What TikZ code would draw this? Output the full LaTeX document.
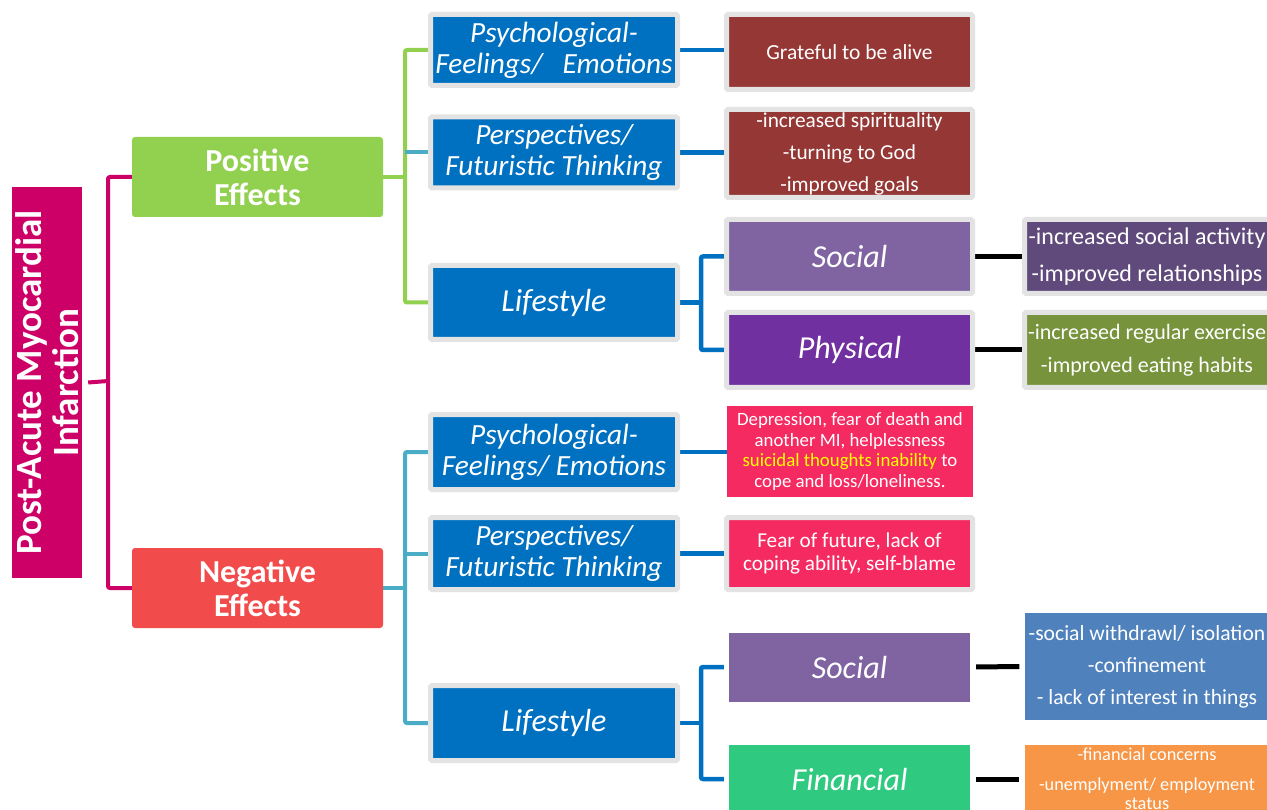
\documentclass[tikz,border=0pt]{standalone}
\usepackage{fontspec}
\setmainfont{Carlito}
\pgfdeclarelayer{background}
\pgfsetlayers{background,main}

\definecolor{rootc}{HTML}{CC0066}
\definecolor{posc}{HTML}{92D050}
\definecolor{negc}{HTML}{F24B4B}
\definecolor{catblue}{HTML}{0070C0}
\definecolor{framec}{HTML}{E3E3E3}
\definecolor{wine}{HTML}{953735}
\definecolor{pinkc}{HTML}{F42A61}
\definecolor{socialc}{HTML}{8064A2}
\definecolor{physc}{HTML}{7030A0}
\definecolor{finc}{HTML}{2FC97F}
\definecolor{plum}{HTML}{604A7B}
\definecolor{olive}{HTML}{77933C}
\definecolor{steel}{HTML}{4F81BD}
\definecolor{orangec}{HTML}{F79646}
\definecolor{tealc}{HTML}{4BACC6}
\definecolor{yel}{HTML}{FFFF00}

\begin{document}
\begin{tikzpicture}[x=1pt,y=-1pt,
  framed/.style={draw=framec, line width=5pt, rounded corners=1.5pt, text=white,
    align=center, inner sep=0pt},
  plain/.style={text=white, align=center, inner sep=0pt},
  effect/.style={plain, rounded corners=3pt, minimum width=251pt, minimum height=80pt,
    font=\fontsize{32}{34}\selectfont\bfseries},
  cat/.style={framed, fill=catblue, minimum width=247pt,
    font=\fontsize{29.3}{31}\selectfont\itshape},
  bigcat/.style={font=\fontsize{32}{34}\selectfont\itshape},
  item/.style={minimum width=246pt},
  result/.style={minimum width=245pt},
  rootln/.style={draw=rootc, line width=4pt, rounded corners=2pt},
  greenln/.style={draw=posc, line width=4pt, rounded corners=2pt},
  tealln/.style={draw=tealc, line width=4pt, rounded corners=2pt},
  blueln/.style={draw=catblue, line width=4.5pt, rounded corners=2pt},
  blackln/.style={draw=black, line width=5pt}
]
\useasboundingbox (0,0) rectangle (1267,810);

% root
\node[plain, fill=rootc, rotate=90, minimum width=391pt, minimum height=70pt,
  font=\fontsize{37}{37}\selectfont\bfseries] (root) at (47,382.5)
  {Post-Acute Myocardial\\Infarction};

% effects
\node[effect, fill=posc] (pos) at (257.5,177) {Positive\\Effects};
\node[effect, fill=negc] (neg) at (257.5,588) {Negative\\Effects};

% categories
\node[cat, minimum height=71pt] (p1) at (554,50) {Psychological-\\Feelings/\ \ \ Emotions};
\node[cat, minimum height=71pt] (p2) at (554,152.5) {Perspectives/\\Futuristic Thinking};
\node[cat, bigcat, minimum height=74pt] (p3) at (554,302.5) {Lifestyle};
\node[cat, minimum height=75pt] (n1) at (554,452) {Psychological-\\Feelings/ Emotions};
\node[cat, minimum height=72pt] (n2) at (554,553.5) {Perspectives/\\Futuristic Thinking};
\node[cat, bigcat, minimum height=75pt] (n3) at (554,723) {Lifestyle};

% details and sub-categories
\node[framed, item, fill=wine, minimum height=75pt, font=\fontsize{21.5}{24}\selectfont]
  (g1) at (849.5,52) {Grateful to be alive};
\node[framed, item, fill=wine, minimum height=88pt, font=\fontsize{21.3}{32}\selectfont]
  (g2) at (849.5,153.5) {-increased spirituality\\-turning to God\\-improved goals};
\node[framed, item, fill=socialc, minimum height=74pt, bigcat] (sp) at (849.5,256.5) {Social};
\node[framed, item, fill=physc, minimum height=75pt, bigcat] (ph) at (849.5,350) {Physical};
\node[plain, item, fill=pinkc, minimum height=91pt, font=\fontsize{18.8}{20.5}\selectfont]
  (d1) at (850,451.5)
  {Depression, fear of death and\\another MI, helplessness\\
   \textcolor{yel}{suicidal thoughts inability} to\\cope and loss/loneliness.};
\node[framed, item, fill=pinkc, minimum height=72pt, font=\fontsize{21.2}{23}\selectfont]
  (d2) at (849.5,553.5) {Fear of future, lack of\\coping ability, self-blame};
\node[plain, fill=socialc, minimum width=241pt, minimum height=69pt, bigcat]
  (sn) at (849.5,667) {Social};
\node[plain, fill=finc, minimum width=241pt, minimum height=68pt, bigcat]
  (fn) at (849.5,779) {Financial};

% results
\node[framed, result, fill=plum, minimum height=74pt, font=\fontsize{24}{37}\selectfont]
  (spr) at (1147,256.5) {-increased social activity\\-improved relationships};
\node[framed, result, fill=olive, minimum height=75pt, font=\fontsize{22}{33}\selectfont]
  (phr) at (1147,350) {-increased regular exercise\\-improved eating habits};
\node[plain, result, fill=steel, minimum height=107pt, font=\fontsize{21.6}{32}\selectfont]
  (snr) at (1147,666.5) {-social withdrawl/ isolation\\-confinement\\- lack of interest in things};
\node[plain, result, fill=orangec, minimum height=68pt, font=\fontsize{18.3}{19}\selectfont]
  (fnr) at (1147,779) {-financial concerns\\[11pt]-unemplyment/ employment\\status};

% junction points
\coordinate (rj) at (108,381);
\coordinate (pj) at (405,177);
\coordinate (nj) at (405,588);
\coordinate (lj1) at (701,302.5);
\coordinate (lj2) at (701,723);

\begin{pgfonlayer}{background}
  % root to effects
  \draw[rootln] ([xshift=6pt]root.south) -- (rj);
  \draw[rootln] (pos.west) -| (rj) |- (neg.west);
  % positive branch
  \draw[greenln] (pos.east) -- (pj);
  \draw[greenln] (p1.west) -| (pj) |- (p3.west);
  \draw[tealln] (p2.west) -- (p2.west -| pj);
  % negative branch
  \draw[tealln] (neg.east) -- (nj);
  \draw[tealln] (n1.west) -| (nj) |- (n3.west);
  \draw[tealln] (n2.west) -- (n2.west -| nj);
  % categories to details
  \draw[blueln] (p1.east) -- (p1.east -| g1.west);
  \draw[blueln] (p2.east) -- (p2.east -| g2.west);
  \draw[blueln] (n1.east) -- (n1.east -| d1.west);
  \draw[blueln] (n2.east) -- (n2.east -| d2.west);
  % lifestyle splits
  \draw[blueln] (p3.east) -- (lj1);
  \draw[blueln] (sp.west) -| (lj1) |- (ph.west);
  \draw[blueln] (n3.east) -- (lj2);
  \draw[blueln, shorten <=5pt, shorten >=5pt] (sn.west) -| (lj2) |- (fn.west);
  % sub-categories to results
  \draw[blackln] (sp.east) -- (spr.west);
  \draw[blackln] (ph.east) -- (phr.west);
  \draw[blackln, shorten <=6pt, shorten >=5pt] (sn.east) -- (snr.west);
  \draw[blackln, shorten <=6pt, shorten >=5pt] (fn.east) -- (fnr.west);
\end{pgfonlayer}
\end{tikzpicture}
\end{document}
